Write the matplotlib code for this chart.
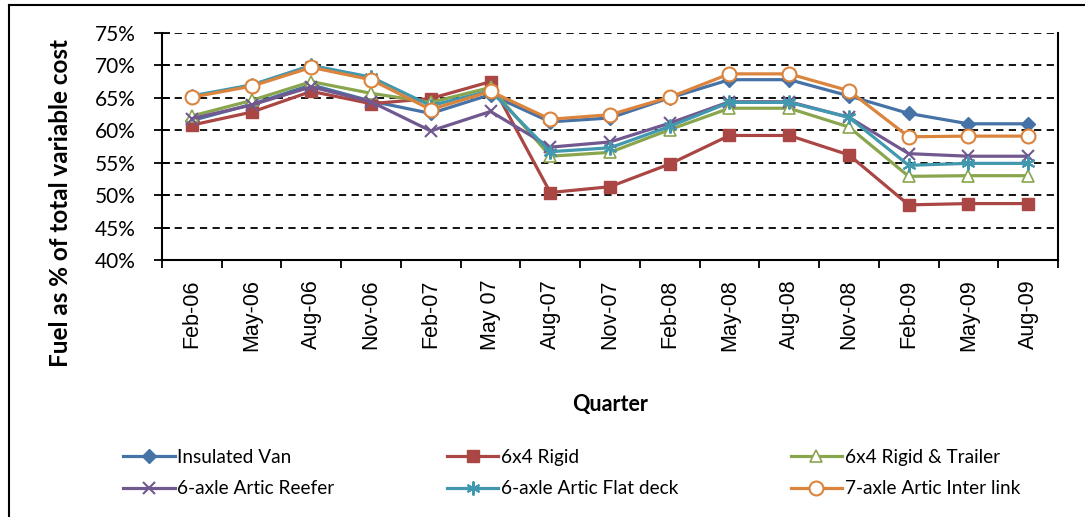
import matplotlib
matplotlib.use("Agg")
import matplotlib.pyplot as plt
from matplotlib.lines import Line2D

quarters = ["Feb-06", "May-06", "Aug-06", "Nov-06", "Feb-07", "May 07", "Aug-07",
            "Nov-07", "Feb-08", "May-08", "Aug-08", "Nov-08", "Feb-09", "May-09", "Aug-09"]

insulated_van = [61.5, 64.0, 67.0, 64.5, 62.6, 65.5, 61.3, 61.9, 65.0, 67.8, 67.8, 65.3, 62.6, 61.0, 61.0]
rigid_6x4 = [60.8, 62.8, 66.0, 64.1, 64.9, 67.5, 50.4, 51.3, 54.8, 59.2, 59.2, 56.2, 48.5, 48.7, 48.7]
rigid_trailer = [62.2, 64.6, 67.5, 65.7, 64.3, 66.6, 56.0, 56.6, 60.1, 63.4, 63.4, 60.5, 52.9, 53.0, 53.0]
artic_reefer = [61.8, 63.9, 66.7, 64.4, 59.9, 62.9, 57.4, 58.2, 61.1, 64.4, 64.4, 62.0, 56.4, 56.0, 56.0]
artic_flat = [65.3, 67.0, 70.0, 68.2, 63.8, 66.1, 56.7, 57.3, 60.6, 64.3, 64.3, 62.0, 54.6, 54.9, 54.9]
artic_interlink = [65.1, 66.8, 69.7, 67.8, 63.2, 66.0, 61.7, 62.4, 65.1, 68.7, 68.7, 66.1, 59.0, 59.1, 59.1]

series = [
    ("Insulated Van", insulated_van, "#4572A7", dict(marker="D", ms=7, mfc="#4572A7")),
    ("6x4 Rigid", rigid_6x4, "#AA4643", dict(marker="s", ms=9, mfc="#AA4643")),
    ("6x4 Rigid & Trailer", rigid_trailer, "#89A54E", dict(marker="^", ms=9, mfc="white", mew=1.2)),
    ("6-axle Artic Reefer", artic_reefer, "#71588F", dict(marker="x", ms=9, mew=1.5)),
    ("6-axle Artic Flat deck", artic_flat, "#4198AF", dict(marker=(6, 2, 0), ms=10, mew=1.5)),
    ("7-axle Artic Inter link", artic_interlink, "#DB843D", dict(marker="o", ms=10, mfc="white", mew=1.5)),
]

fig = plt.figure(figsize=(10.85, 5.17), dpi=100)
ax = fig.add_axes([162 / 1085, 1 - 260 / 517, 896 / 1085, 227 / 517])

x = range(len(quarters))
handles = []
for name, vals, col, mk in series:
    h, = ax.plot(x, vals, color=col, lw=2.3, mec=col, label=name, **mk)
    handles.append(h)

ax.set_xlim(-0.5, len(quarters) - 0.5)
ax.set_ylim(40, 75)
ax.set_yticks(range(40, 80, 5))
ax.set_yticklabels([f"{v}%" for v in range(40, 80, 5)], fontfamily="Lato", fontsize=15)
ax.set_xticks(list(x))
ax.set_xticklabels(quarters, rotation=90, fontfamily="Liberation Sans", fontsize=15.5)
ax.set_xticks([i - 0.5 for i in range(len(quarters) + 1)], minor=True)
ax.tick_params(axis="x", which="major", length=0, pad=14)
ax.tick_params(axis="x", which="minor", length=6, width=1.3, direction="out")
ax.tick_params(axis="y", length=11.5, width=1.3, direction="inout", pad=13)

for yv in range(45, 80, 5):
    ax.axhline(yv, color="black", lw=1.3, ls=(0, (4, 3)), zorder=0)
ax.spines["top"].set_visible(False)
for s in ("left", "bottom", "right"):
    ax.spines[s].set_linewidth(1.5)

fig.text(60 / 1085, 1 - 203 / 517, "Fuel as % of total variable cost", fontfamily="Lato",
         fontweight="bold", fontsize=17.5, rotation=90, ha="center", va="center")
fig.text(610 / 1085, 1 - 405 / 517, "Quarter", fontfamily="Lato", fontweight="bold",
         fontsize=15.5, ha="center", va="center")

# legend is filled column by column, so interleave to get the row order of the original
order = [0, 3, 1, 4, 2, 5]
fig.legend(handles=[handles[i] for i in order], loc="upper left",
           bbox_to_anchor=(106 / 1085, 1 - 432 / 517),
           ncol=3, frameon=False, prop={"family": "Lato", "size": 13.7}, handlelength=2.7,
           handletextpad=0.15, columnspacing=5.9, labelspacing=0.75)

# chart area frame (only top and left edges are visible in the original)
fig.add_artist(Line2D([9 / 1085, 9 / 1085], [0, 1 - 5 / 517], color="black", lw=1.5))
fig.add_artist(Line2D([9 / 1085, 1], [1 - 5 / 517, 1 - 5 / 517], color="black", lw=1.5))

fig.savefig("out.png", dpi=100)
